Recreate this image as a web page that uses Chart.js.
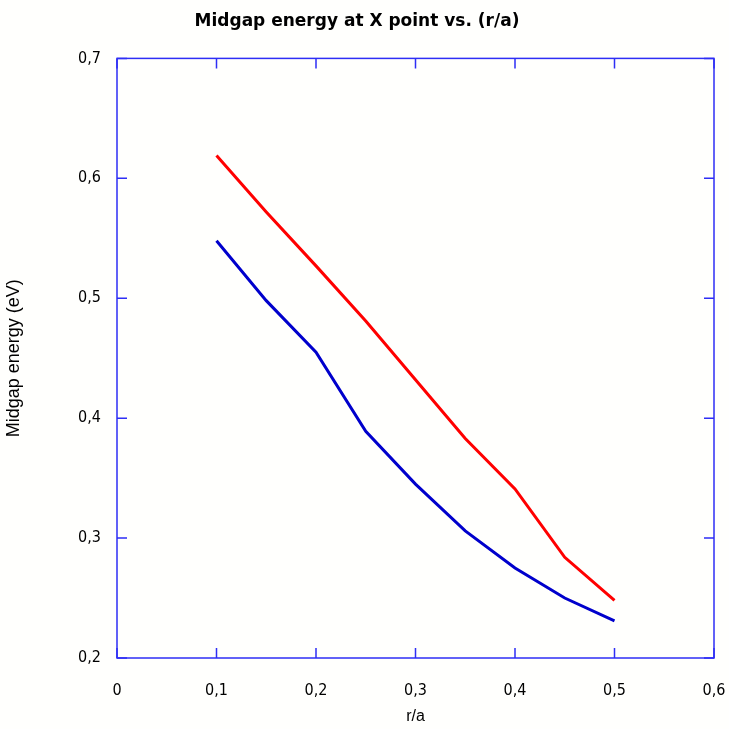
<!DOCTYPE html>
<html>
<head>
<meta charset="utf-8">
<script src="https://cdn.jsdelivr.net/npm/chart.js@4.4.1/dist/chart.umd.min.js"></script>
<style>
  html, body { margin: 0; padding: 0; background: #fffffd; overflow: hidden; }
  #wrap { width: 729px; height: 729px; position: relative; }
  canvas { display: block; }
</style>
</head>
<body>
<div id="wrap"><canvas id="chartMidgap"></canvas></div>
<script>
// === DONNÉES ===
const ratio = [0.1, 0.15, 0.2, 0.25, 0.3, 0.35, 0.4, 0.45, 0.5];
const upperEnergy = [0.619, 0.572, 0.527, 0.481, 0.432, 0.383, 0.341, 0.284, 0.248];
const lowerEnergy = [0.548, 0.498, 0.455, 0.389, 0.345, 0.306, 0.275, 0.250, 0.231];
const xTicks = [0, 0.1, 0.2, 0.3, 0.4, 0.5, 0.6];
const yTicks = [0.2, 0.3, 0.4, 0.5, 0.6, 0.7];

const frameColor = "#2e2ef5";
const labelFont = "'DejaVu Sans Condensed', 'Liberation Sans Narrow', 'Liberation Sans', sans-serif";

function toPoints(ys) {
    return ratio.map((x, i) => ({ x: x, y: ys[i] }));
}

function comma(v) {
    return String(Math.round(v * 10) / 10).replace(".", ",");
}

// cadre + graduations vers l'intérieur, sur les 4 côtés
const framePlugin = {
    id: "frame",
    afterDraw(chart) {
        const { ctx, chartArea: a, scales } = chart;
        ctx.save();
        ctx.strokeStyle = frameColor;
        ctx.lineWidth = 1.5;
        ctx.strokeRect(a.left, a.top, a.right - a.left, a.bottom - a.top);
        ctx.beginPath();
        xTicks.forEach(v => {
            const px = scales.x.getPixelForValue(v);
            ctx.moveTo(px, a.bottom); ctx.lineTo(px, a.bottom - 10);
            ctx.moveTo(px, a.top); ctx.lineTo(px, a.top + 10);
        });
        yTicks.forEach(v => {
            const py = scales.y.getPixelForValue(v);
            ctx.moveTo(a.left, py); ctx.lineTo(a.left + 10, py);
            ctx.moveTo(a.right, py); ctx.lineTo(a.right - 10, py);
        });
        ctx.stroke();
        ctx.restore();
    }
};

new Chart(document.getElementById("chartMidgap"), {
    type: "scatter",
    data: {
        datasets: [
            {
                label: "upper",
                data: toPoints(upperEnergy),
                showLine: true,
                borderColor: "#ff0000",
                borderWidth: 3,
                pointRadius: 0,
                tension: 0
            },
            {
                label: "lower",
                data: toPoints(lowerEnergy),
                showLine: true,
                borderColor: "#0000cc",
                borderWidth: 3,
                pointRadius: 0,
                tension: 0
            }
        ]
    },
    options: {
        responsive: true,
        maintainAspectRatio: false,
        animation: false,
        layout: { padding: { left: 0, right: 15, top: 0, bottom: 0 } },
        plugins: {
            legend: { display: false },
            tooltip: { enabled: false },
            title: {
                display: true,
                text: "Midgap energy at X point vs. (r/a)",
                color: "#000",
                font: { family: "'DejaVu Sans', sans-serif", size: 17, weight: "bold", lineHeight: 1.2 },
                padding: { top: 11, bottom: 27 }
            }
        },
        scales: {
            x: {
                type: "linear",
                min: 0,
                max: 0.6,
                afterBuildTicks: s => { s.ticks = xTicks.map(v => ({ value: v })); },
                afterFit: s => { s.height = 71; s.paddingLeft = 0; s.paddingRight = 0; },
                grid: { display: false, drawTicks: false },
                border: { display: false },
                ticks: {
                    color: "#000",
                    padding: 23,
                    font: { family: labelFont, size: 16 },
                    callback: v => comma(v)
                },
                title: {
                    display: true,
                    text: "r/a",
                    color: "#000",
                    font: { family: "'Liberation Sans', Arial, sans-serif", size: 16 },
                    padding: { top: 0, bottom: 3 }
                }
            },
            y: {
                type: "linear",
                min: 0.2,
                max: 0.7,
                afterBuildTicks: s => { s.ticks = yTicks.map(v => ({ value: v })); },
                afterFit: s => { s.width = 117; s.paddingTop = 0; s.paddingBottom = 0; },
                grid: { display: false, drawTicks: false },
                border: { display: false },
                ticks: {
                    color: "#000",
                    padding: 16,
                    font: { family: labelFont, size: 16 },
                    callback: v => comma(v)
                },
                title: {
                    display: true,
                    text: "Midgap energy (eV)",
                    color: "#000",
                    font: { family: "'Liberation Sans', Arial, sans-serif", size: 18 },
                    padding: { top: 3, bottom: 0 }
                }
            }
        }
    },
    plugins: [framePlugin]
});
</script>
</body>
</html>
